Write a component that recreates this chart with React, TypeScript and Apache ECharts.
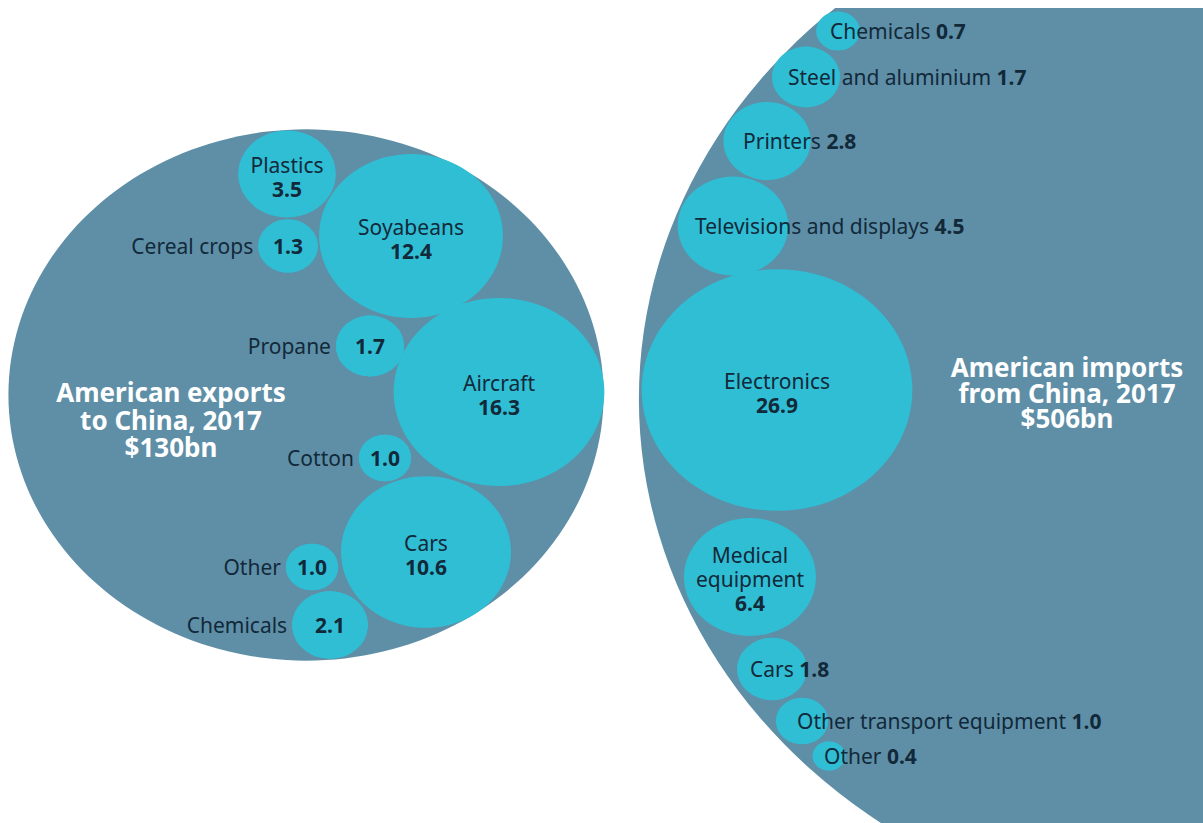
import React, { useEffect, useRef } from "react";
import * as echarts from "echarts";

// ---------- data ----------
const exportCategories = ["Plastics", "Soyabeans", "Cereal crops", "Propane", "Aircraft", "Cotton", "Cars", "Other", "Chemicals"];
const exportValues = [3.5, 12.4, 1.3, 1.7, 16.3, 1.0, 10.6, 1.0, 2.1];

const importCategories = ["Chemicals", "Steel and aluminium", "Printers", "Televisions and displays", "Electronics", "Medical equipment", "Cars", "Other transport equipment", "Other"];
const importValues = [0.7, 1.7, 2.8, 4.5, 26.9, 6.4, 1.8, 1.0, 0.4];

const totalTitles = [["American exports", "to China, 2017"], ["American imports", "from China, 2017"]];
const totalValues = [130, 506];

// ---------- layout (positions in page pixels) ----------
const exportCenters = [[287, 174], [411, 236], [288, 246], [370, 346], [499, 392], [385, 458], [426, 552], [312, 567], [330, 625]];
const exportLabelModes = ["inside", "inside", "left", "left", "inside", "left", "inside", "left", "left"];

const importCenters = [[838, 31], [806, 77], [767, 141], [733, 226], [777, 390], [750, 577], [772, 669], [802, 721], [829, 756]];
const importLabelModes = ["right", "right", "right", "right", "inside", "wrap", "right", "right", "right"];
const importLabelShift = [-8, -18, -24, -38, 0, 0, -22, -5, -5];

const totalCenters = [[306, 395], [1226, 399]];
const totalTitleTop = [[171, 392], [1067, 367]];
const totalTitleStep = [27.5, 25.5];

// ---------- style ----------
const W = 1203;
const H = 823;
const KX = 26.1; // horizontal radius per sqrt(value)
const KY = 23.3; // vertical radius per sqrt(value)
const DARK = "#5e8fa7";
const CYAN = "#2fbed4";
const NAVY = "#12293a";
const FONT = "Noto Sans";
const FS = 21;

const rich = {
  n: { fontFamily: FONT, fontSize: FS, color: NAVY, lineHeight: 24 },
  v: { fontFamily: FONT, fontSize: FS, fontWeight: "bold", color: NAVY, lineHeight: 24 },
};

function fmt(v: number) {
  return v.toFixed(1);
}

function buildItems(cats: string[], vals: number[], centers: number[][], modes: string[], shifts?: number[]) {
  const bubbles: any[] = [];
  const valueBubbles: any[] = [];
  cats.forEach((name, i) => {
    const v = vals[i];
    const [x, y] = centers[i];
    const mode = modes[i];
    let label: any;
    if (mode === "inside") {
      label = { show: true, position: "inside", offset: [0, 3], formatter: `{n|${name}}\n{v|${fmt(v)}}`, rich };
    } else if (mode === "wrap") {
      const lines = name.split(" ").map((w) => `{n|${w}}`).join("\n");
      label = { show: true, position: "inside", offset: [0, 2], formatter: `${lines}\n{v|${fmt(v)}}`, rich };
    } else if (mode === "left") {
      label = { show: true, position: "left", distance: 5, formatter: `{n|${name}}`, rich };
      valueBubbles.push({
        name,
        value: [x, y, v],
        label: { show: true, position: "inside", formatter: `{v|${fmt(v)}}`, rich },
      });
    } else {
      label = {
        show: true,
        position: "inside",
        align: "left",
        offset: [shifts ? shifts[i] : 0, 0],
        formatter: `{n|${name} }{v|${fmt(v)}}`,
        rich,
      };
    }
    bubbles.push({ name, value: [x, y, v], label });
  });
  return { bubbles, valueBubbles };
}

const sizeFn = (val: number[]) => [2 * KX * Math.sqrt(val[2]), 2 * KY * Math.sqrt(val[2])];

export default function App() {
  const ref = useRef<HTMLDivElement>(null);

  useEffect(() => {
    if (!ref.current) return;
    const chart = echarts.init(ref.current, undefined, { renderer: "svg" });

    const ex = buildItems(exportCategories, exportValues, exportCenters, exportLabelModes);
    const im = buildItems(importCategories, importValues, importCenters, importLabelModes, importLabelShift);

    const totals = totalValues.map((v, i) => ({ name: totalTitles[i].join(" "), value: [totalCenters[i][0], totalCenters[i][1], v] }));

    const graphics: any[] = [
      // white strip along the top edge of the picture
      { type: "rect", left: 0, top: 0, z: 90, silent: true, shape: { width: W, height: 8 }, style: { fill: "#ffffff" } },
    ];
    totalTitles.forEach((lines, i) => {
      const all = lines.concat([`$${totalValues[i]}bn`]);
      all.forEach((t, j) => {
        graphics.push({
          type: "text",
          x: totalTitleTop[i][0],
          y: totalTitleTop[i][1] + j * totalTitleStep[i],
          z: 100,
          silent: true,
          style: {
            text: t,
            fill: "#ffffff",
            font: `bold 26px "${FONT}"`,
            textAlign: "center",
            textVerticalAlign: "middle",
          },
        });
      });
    });

    const base = {
      type: "scatter",
      clip: false,
      silent: true,
      symbol: "circle",
      symbolSize: sizeFn,
      emphasis: { disabled: true },
    };

    const option: any = {
      animation: false,
      backgroundColor: "#ffffff",
      grid: { left: 0, right: 0, top: 0, bottom: 0 },
      xAxis: { type: "value", min: 0, max: W, show: false },
      yAxis: { type: "value", min: 0, max: H, inverse: true, show: false },
      graphic: graphics,
      series: [
        { ...base, name: "totals", z: 1, itemStyle: { color: DARK, opacity: 1 }, label: { show: false }, data: totals },
        { ...base, name: "exports", z: 2, itemStyle: { color: CYAN, opacity: 1 }, data: ex.bubbles },
        { ...base, name: "imports", z: 2, itemStyle: { color: CYAN, opacity: 1 }, data: im.bubbles },
        { ...base, name: "values", z: 3, itemStyle: { color: CYAN, opacity: 1 }, data: ex.valueBubbles.concat(im.valueBubbles) },
      ],
    };
    chart.setOption(option);
    return () => chart.dispose();
  }, []);

  return <div ref={ref} style={{ position: "absolute", left: 0, top: 0, width: W, height: H }} />;
}
